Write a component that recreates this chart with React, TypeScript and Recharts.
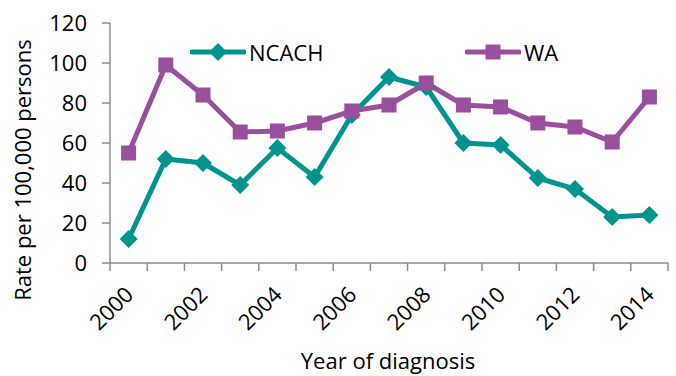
import { LineChart, Line, XAxis, YAxis, Legend, Label } from 'recharts';

const years = [2000, 2001, 2002, 2003, 2004, 2005, 2006, 2007, 2008, 2009, 2010, 2011, 2012, 2013, 2014];
const ncach = [12, 52, 50, 39, 57.5, 43, 74, 93, 88, 60, 59, 42.5, 37, 23, 24];
const wa = [55, 99, 84, 65.5, 66, 70, 76, 79, 90, 79, 78, 70, 68, 60.5, 83];
const yTicks = [0, 20, 40, 60, 80, 100, 120];

const TEAL = '#00948F';
const PURPLE = '#9A4F9E';
const AXIS = '#8C8C8C';
const FONT = '"Open Sans", sans-serif';
const FS = 22;

const data = years.map((y, i) => ({ year: y, NCACH: ncach[i], WA: wa[i] }));

// tick positions: category boundaries (tick marks) plus category centres (labels)
const xTicks: number[] = [years[0] - 0.5];
years.forEach((y) => {
    xTicks.push(y, y + 0.5);
});

function XTick(props: any) {
    const { x, y, payload } = props;
    const v = payload.value;
    if (!Number.isInteger(v)) {
        return <line x1={x} y1={y} x2={x} y2={y + 8} stroke={AXIS} strokeWidth={1.5} />;
    }
    if (v % 2 !== 0) return <g />;
    const tx = x + 6;
    const ty = y + 33;
    return (
        <text x={tx} y={ty} textAnchor="end" transform={`rotate(-45, ${tx}, ${ty})`}
            fontSize={FS} fontFamily={FONT} fill="#000">
            {v}
        </text>
    );
}

function Diamond(props: any) {
    const { cx, cy } = props;
    if (cx == null || cy == null) return <g />;
    const r = 9;
    return <polygon points={`${cx},${cy - r} ${cx + r},${cy} ${cx},${cy + r} ${cx - r},${cy}`} fill={TEAL} />;
}

function Square(props: any) {
    const { cx, cy } = props;
    if (cx == null || cy == null) return <g />;
    const s = 15;
    return <rect x={cx - s / 2} y={cy - s / 2} width={s} height={s} fill={PURPLE} />;
}

function LegendContent(props: any) {
    const items = props.payload || [];
    const lefts = [190, 465];
    return (
        <div style={{ position: 'relative', height: 30 }}>
            {items.map((it: any, i: number) => (
                <div key={it.value} style={{ position: 'absolute', left: lefts[i], top: 0, display: 'flex', alignItems: 'center' }}>
                    <svg width={56} height={24}>
                        <line x1={2} y1={12} x2={54} y2={12} stroke={it.color} strokeWidth={5} strokeLinecap="round" />
                        {i === 0
                            ? <polygon points="28,3 37,12 28,21 19,12" fill={it.color} />
                            : <rect x={20.5} y={4.5} width={15} height={15} fill={it.color} />}
                    </svg>
                    <span style={{ fontFamily: FONT, fontSize: FS, color: '#000', marginLeft: 3, lineHeight: '30px' }}>{it.value}</span>
                </div>
            ))}
        </div>
    );
}

export default function App() {
    return (
        <div style={{ position: 'absolute', left: 0, top: 0, width: 676, height: 376, background: '#fff' }}>
            <LineChart width={676} height={376} data={data} margin={{ top: 23, right: 8, bottom: 0, left: 0 }}>
                <XAxis dataKey="year" type="number" domain={[1999.5, 2014.5]} ticks={xTicks} interval={0}
                    tickLine={false} tickSize={0} tickMargin={0} tick={<XTick />} height={113}
                    stroke={AXIS} strokeWidth={1.5}>
                    <Label content={() => (
                        <text x={388} y={369} textAnchor="middle" fontSize={FS} fontFamily={FONT} fill="#000">Year of diagnosis</text>
                    )} />
                </XAxis>
                <YAxis domain={[0, 120]} ticks={yTicks} interval={0} width={110} tickSize={8} tickMargin={15}
                    stroke={AXIS} strokeWidth={1.5}
                    tick={{ fontSize: FS, fontFamily: FONT, fill: '#000' }}>
                    <Label content={() => (
                        <text x={31} y={170} textAnchor="middle" transform="rotate(-90, 31, 170)"
                            fontSize={FS} fontFamily={FONT} fill="#000">Rate per 100,000 persons</text>
                    )} />
                </YAxis>
                <Legend layout="horizontal" verticalAlign="middle" align="center" content={<LegendContent />}
                    wrapperStyle={{ position: 'absolute', top: 37, left: 0, width: 676 }} />
                <Line dataKey="NCACH" stroke={TEAL} strokeWidth={5} dot={<Diamond />} activeDot={false} isAnimationActive={false} />
                <Line dataKey="WA" stroke={PURPLE} strokeWidth={5} dot={<Square />} activeDot={false} isAnimationActive={false} />
            </LineChart>
        </div>
    );
}
